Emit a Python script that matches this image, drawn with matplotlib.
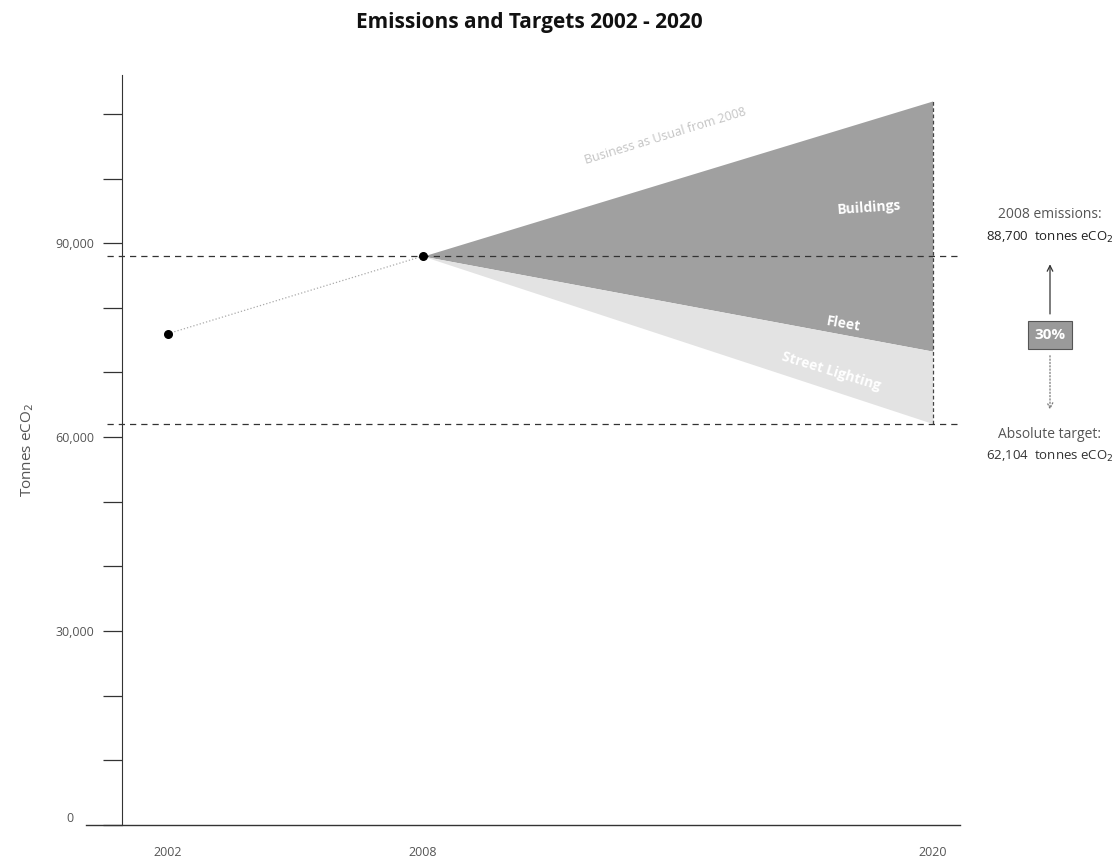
"""
Emissions and targets 2002 - 2020: actuals, business-as-usual wedge and reduction wedges.
"""
import numpy as np
import matplotlib
matplotlib.use("Agg")
import matplotlib.pyplot as plt

plt.rcParams["font.family"] = ["Open Sans", "DejaVu Sans"]

# actual emissions
ACT_YEARS = [2002, 2008]
ACT_VALUES = [76000, 88000]

# projections from 2008
PROJ_YEARS = [2008, 2020]
BAU = [88000, 112000]            # business as usual
BUILDINGS_LOW = [88000, 76000]   # bottom of buildings wedge
FLEET_LOW = [88000, 73300]       # bottom of fleet wedge
LIGHT_LOW = [88000, 62104]       # bottom of street-lighting wedge

BASE_2008 = 88000
TARGET = 62104

Y_TICKS = np.arange(0, 110001, 10000)
Y_LABELS = ["", "", "", "30,000", "", "", "60,000", "", "", "90,000", "", ""]
X_TICKS = [2002, 2008, 2020]

DARK, LIGHT = "#a0a0a0", "#e3e3e3"
TXT = "#555555"

fig = plt.figure(figsize=(11.2, 8.63), dpi=100)
ax = fig.add_axes([0.109, 0.044, 0.748, 0.869])
ax.set_xlim(2000.92, 2020.64)
ax.set_ylim(0, 116000)

# wedges (buildings + fleet share one shade, as in the original)
ax.fill_between(PROJ_YEARS, FLEET_LOW, BAU, color=DARK, lw=0)
ax.fill_between(PROJ_YEARS, LIGHT_LOW, FLEET_LOW, color=LIGHT, lw=0)
ax.plot([2020, 2020], [TARGET, BAU[1]], color="#444444", lw=0.9, ls=(0, (3, 2)))

# reference lines (run slightly past the y axis like the original)
ax.plot([2000.56, 2020.64], [BASE_2008, BASE_2008], color="#333333", lw=0.9,
        ls=(0, (5, 4)), clip_on=False, zorder=3)
ax.plot([2000.56, 2020.64], [TARGET, TARGET], color="#333333", lw=0.9,
        ls=(0, (5, 4)), clip_on=False, zorder=3)

# actuals
ax.plot(ACT_YEARS, ACT_VALUES, color="#aaaaaa", lw=0.9, ls=":", zorder=3)
ax.scatter(ACT_YEARS, ACT_VALUES, s=30, color="black", zorder=4)

# wedge labels
ax.text(2018.5, 95500, "Buildings", color="white", fontsize=10, fontweight="bold",
        ha="center", va="center", rotation=4)
ax.text(2017.9, 77500, "Fleet", color="white", fontsize=10, fontweight="bold",
        ha="center", va="center", rotation=-10)
ax.text(2017.6, 70200, "Street Lighting", color="white", fontsize=10,
        fontweight="bold", ha="center", va="center", rotation=-17)
ax.text(2013.7, 106500, "Business as Usual from 2008", color="#c4c4c4", fontsize=9,
        ha="center", va="center", rotation=17)

# axes styling
for s in ["top", "right"]:
    ax.spines[s].set_visible(False)
ax.spines["bottom"].set_visible(False)
ax.plot([2000.07, 2020.64], [0, 0], color="#333333", lw=1.0, clip_on=False, zorder=5)
ax.spines["left"].set_color("#333333")
ax.set_yticks(Y_TICKS)
ax.set_yticklabels(Y_LABELS, fontsize=9, color=TXT)
ax.tick_params(axis="y", length=14, width=0.9, color="#333333", pad=6)
ax.text(1999.69, 0, "0", fontsize=9, color=TXT, ha="center", va="bottom",
        clip_on=False)
ax.set_xticks(X_TICKS)
ax.set_xticklabels([str(x) for x in X_TICKS], fontsize=9, color=TXT)
ax.tick_params(axis="x", length=0, pad=15)
ax.set_ylabel("Tonnes eCO$_2$", fontsize=11, color=TXT, labelpad=14)

fig.text(0.473, 0.974, "Emissions and Targets 2002 - 2020", ha="center", va="center",
         fontsize=15, fontweight="bold", color="#111111")

# right-hand annotation
fig.text(0.9375, 0.751, "2008 emissions:", ha="center", va="center", fontsize=10,
         color=TXT)
fig.text(0.9375, 0.725, "88,700  tonnes eCO$_2$", ha="center", va="center",
         fontsize=9.5, color="#222222")
fig.text(0.9375, 0.497, "Absolute target:", ha="center", va="center", fontsize=10,
         color=TXT)
fig.text(0.9375, 0.471, "62,104  tonnes eCO$_2$", ha="center", va="center",
         fontsize=9.5, color="#333333")
fig.text(0.9375, 0.612, "30%", ha="center", va="center", fontsize=11,
         color="white", fontweight="bold",
         bbox=dict(boxstyle="square,pad=0.45", fc="#9a9a9a", ec="#555555", lw=0.8))
fig.add_artist(matplotlib.patches.FancyArrowPatch(
    (0.9375, 0.633), (0.9375, 0.697), transform=fig.transFigure,
    arrowstyle="->", mutation_scale=10, color="#333333", lw=0.9))
fig.add_artist(matplotlib.patches.FancyArrowPatch(
    (0.9375, 0.591), (0.9375, 0.522), transform=fig.transFigure,
    arrowstyle="->", mutation_scale=10, color="#777777", lw=0.9, ls=":"))

fig.savefig("out.png", dpi=100)
